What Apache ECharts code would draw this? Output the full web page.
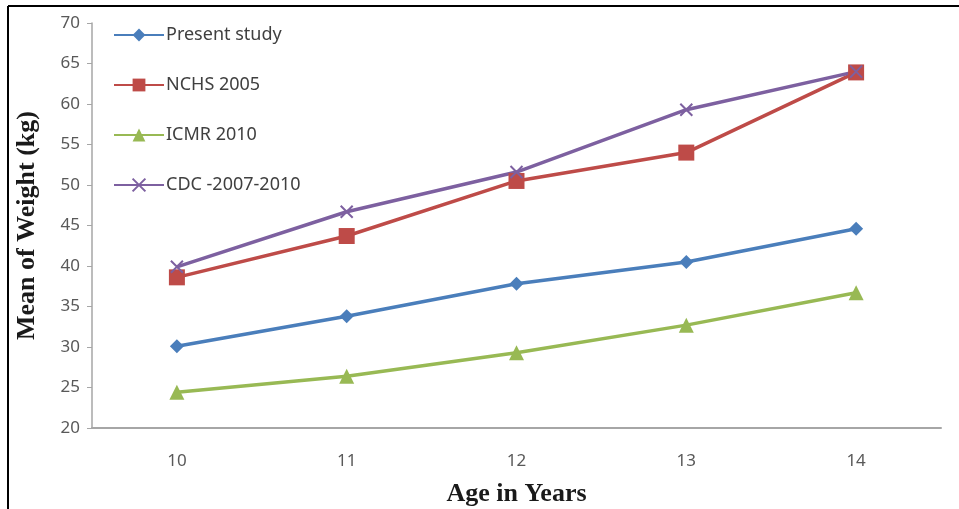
<!DOCTYPE html>
<html>
<head>
<meta charset="utf-8">
<script src="https://cdn.jsdelivr.net/npm/echarts@6/dist/echarts.min.js"></script>
<style>html,body{margin:0;padding:0;background:#fff;}#c{width:959px;height:509px;}</style>
</head>
<body>
<div id="c"></div>
<script>
const ages = ['10', '11', '12', '13', '14'];
const presentStudy = [30.1, 33.8, 37.8, 40.5, 44.6];
const nchs2005 = [38.6, 43.7, 50.5, 54.0, 63.9];
const icmr2010 = [24.4, 26.4, 29.3, 32.7, 36.7];
const cdc = [39.9, 46.7, 51.6, 59.3, 64.0];
const seriesNames = ['Present study', 'NCHS 2005', 'ICMR 2010', 'CDC -2007-2010'];

const chart = echarts.init(document.getElementById('c'), null, {renderer: 'canvas'});
const crossPath = 'path://M0,0L10,10M10,0L0,10';
function mk(name, data, color, symbol, size, extra) {
  return Object.assign({
    name: name, type: 'line', data: data, symbol: symbol, symbolSize: size,
    lineStyle: {color: color, width: 3.5},
    itemStyle: {color: color},
    emphasis: {disabled: true}
  }, extra || {});
}
chart.setOption({
  animation: false,
  backgroundColor: '#fff',
  textStyle: {fontFamily: 'Noto Sans'},
  grid: {left: 92, right: 18, top: 23, bottom: 81, outerBoundsMode: 'none', containLabel: false},
  legend: {
    orient: 'vertical', left: 108, top: 21, itemGap: 32, itemWidth: 50, itemHeight: 16,
    textStyle: {fontSize: 18, color: '#404040', fontFamily: 'Noto Sans', padding: [0, 0, 0, -3]},
    data: seriesNames
  },
  xAxis: {
    type: 'category', data: ages, boundaryGap: true,
    axisLine: {lineStyle: {color: '#a6a6a6', width: 2}},
    axisTick: {show: false},
    axisLabel: {fontSize: 17, color: '#595959', margin: 25},
    name: 'Age in Years', nameLocation: 'middle', nameGap: 53,
    nameTextStyle: {fontFamily: 'Liberation Serif', fontWeight: 'bold', fontSize: 26, color: '#1a1a1a'}
  },
  yAxis: {
    type: 'value', min: 20, max: 70, interval: 5,
    axisLine: {show: true, lineStyle: {color: '#a6a6a6', width: 1.5}},
    axisTick: {show: true, length: 5, lineStyle: {color: '#a6a6a6'}},
    splitLine: {show: false},
    axisLabel: {fontSize: 17, color: '#595959', margin: 12},
    name: 'Mean of Weight (kg)', nameLocation: 'middle', nameGap: 52,
    nameTextStyle: {fontFamily: 'Liberation Serif', fontWeight: 'bold', fontSize: 26, color: '#1a1a1a'}
  },
  graphic: [
    {type: 'line', shape: {x1: 8, y1: 6, x2: 959, y2: 6}, style: {stroke: '#000', lineWidth: 2}},
    {type: 'line', shape: {x1: 8, y1: 6, x2: 8, y2: 509}, style: {stroke: '#000', lineWidth: 2}}
  ],
  series: [
    mk(seriesNames[0], presentStudy, '#4a7ebb', 'diamond', 14),
    mk(seriesNames[1], nchs2005, '#be4b48', 'rect', 16),
    mk(seriesNames[2], icmr2010, '#98b954', 'triangle', 15),
    mk(seriesNames[3], cdc, '#7d60a0', crossPath, 12, {itemStyle: {color: 'rgba(0,0,0,0)', borderColor: '#7d60a0', borderWidth: 2}})
  ]
});
</script>
</body>
</html>
